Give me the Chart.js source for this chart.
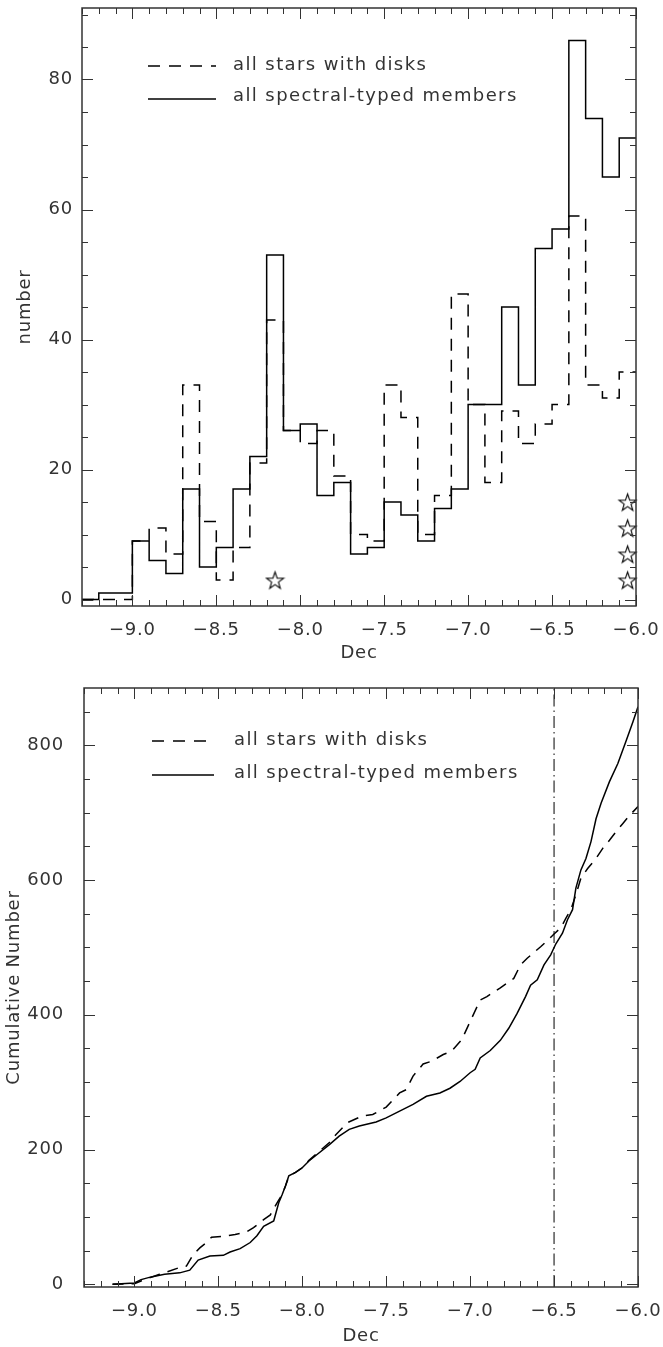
<!DOCTYPE html>
<html>
<head>
<meta charset="utf-8">
<title>Dec distribution</title>
<script src="https://cdn.jsdelivr.net/npm/chart.js@4.4.1/dist/chart.umd.min.js"></script>
<style>
  html, body { margin: 0; padding: 0; background: #fff; }
  canvas { position: absolute; left: 0; }
  #histChart { top: 0; }
  #cumChart { top: 668px; }
</style>
</head>
<body>
<canvas id="histChart" width="663" height="668"></canvas>
<canvas id="cumChart" width="663" height="679"></canvas>
<script>
// histogram bin edges (Dec, 0.1 wide); the last one closes the final bin
const binEdges = [-9.3, -9.2, -9.1, -9.0, -8.9, -8.8, -8.7, -8.6, -8.5, -8.4, -8.3, -8.2, -8.1, -8.0, -7.9, -7.8, -7.7,
    -7.6, -7.5, -7.4, -7.3, -7.2, -7.1, -7.0, -6.9, -6.8, -6.7, -6.6, -6.5, -6.4, -6.3, -6.2, -6.1, -6.0];
const memberCounts = [0, 1, 1, 9, 6, 4, 17, 5, 8, 17, 22, 53, 26, 27, 16, 18, 7, 8, 15, 13, 9, 14, 17, 30, 30, 45, 33,
    54, 57, 86, 74, 65, 71];
const diskCounts = [0, 0, 0, 9, 11, 7, 33, 12, 3, 8, 21, 43, 26, 24, 26, 19, 10, 9, 33, 28, 10, 16, 47, 30, 18, 29, 24,
    27, 30, 59, 33, 31, 35];

// star symbols
const starDec = [-8.15, -6.05, -6.05, -6.05, -6.05];
const starNum = [3, 3, 7, 11, 15];

// cumulative curves
const memberCumDec = [-9.13, -9.0, -8.96, -8.9, -8.82, -8.73, -8.67, -8.62, -8.55, -8.47, -8.43, -8.37, -8.31, -8.27,
    -8.23, -8.17, -8.14, -8.12, -8.1, -8.08, -8.04, -8.0, -7.96, -7.91, -7.84, -7.78, -7.72, -7.66, -7.56, -7.5, -7.42,
    -7.34, -7.26, -7.18, -7.12, -7.06, -7.0, -6.97, -6.94, -6.88, -6.82, -6.77, -6.72, -6.67, -6.64, -6.6, -6.56, -6.52,
    -6.49, -6.45, -6.42, -6.39, -6.37, -6.34, -6.31, -6.28, -6.25, -6.22, -6.17, -6.12, -6.07, -6.03, -6.0];
const memberCum = [0, 2, 7, 11, 15, 17, 21, 36, 42, 43, 48, 53, 62, 72,
    86, 94, 121, 133, 146, 161, 166, 173, 183, 193, 207, 220, 230, 235, 241, 247, 257,
    267, 279, 284, 291, 301, 314, 319, 336, 347, 362, 380, 402, 427, 444, 452, 474, 489,
    505, 521, 541, 556, 588, 615, 632, 657, 691, 714, 746, 773, 807, 835, 857];
const diskCumDec = [-9.13, -9.0, -8.96, -8.85, -8.82, -8.73, -8.69, -8.65, -8.61, -8.57, -8.54, -8.47, -8.4, -8.33,
    -8.29, -8.23, -8.19, -8.15, -8.12, -8.1, -8.08, -8.04, -8.0, -7.96, -7.91, -7.84, -7.8, -7.73, -7.64, -7.58, -7.5,
    -7.42, -7.38, -7.34, -7.28, -7.23, -7.16, -7.11, -7.05, -7.0, -6.94, -6.9, -6.82, -6.74, -6.7, -6.66, -6.58, -6.54,
    -6.5, -6.46, -6.43, -6.4, -6.37, -6.34, -6.3, -6.25, -6.21, -6.17, -6.13, -6.09, -6.05, -6.0];
const diskCum = [0, 1, 5, 15, 17, 25, 27, 44, 54, 62, 70, 71, 74, 78,
    84, 96, 103, 121, 133, 146, 160, 166, 173, 184, 195, 210, 222, 240, 250, 252, 263,
    284, 289, 309, 327, 331, 341, 346, 363, 390, 422, 427, 440, 454, 474, 484, 501, 510,
    520, 529, 543, 556, 578, 603, 617, 632, 647, 659, 672, 684, 696, 709];
const cutDec = -6.5;

const decTicks = [-9.0, -8.5, -8.0, -7.5, -7.0, -6.5, -6.0];
const numTicks = [0, 20, 40, 60, 80];
const cumTicks = [0, 200, 400, 600, 800];
const legendLabels = ['all stars with disks', 'all spectral-typed members'];

const INK = '#000';
const TEXT = '#333';
const FONT = { family: "'DejaVu Sans', sans-serif", size: 18 };

const steps = (lo, hi, d) => Array.from({ length: Math.round((hi - lo) / d) + 1 }, (_, i) => Math.round((lo + i * d) * 10) / 10);
const fmtDec = (v) => (v < 0 ? '\u2212' : '') + Math.abs(v).toFixed(1);

function starImage(r) {
    const c = document.createElement('canvas');
    const s = Math.ceil(2 * r + 3);
    c.width = c.height = s;
    const g = c.getContext('2d');
    g.strokeStyle = INK;
    g.lineWidth = 1.1;
    g.beginPath();
    for (let i = 0; i < 10; i++) {
        const rad = i % 2 ? r * 0.4 : r;
        const ang = -Math.PI / 2 + i * Math.PI / 5;
        const px = s / 2 + rad * Math.cos(ang);
        const py = s / 2 + 1 + rad * Math.sin(ang);
        if (i) g.lineTo(px, py); else g.moveTo(px, py);
    }
    g.closePath();
    g.stroke();
    return c;
}

// IDL-like box with inward ticks on all four sides
const idlFrame = {
    id: 'idlFrame',
    beforeDraw(chart) {
        chart.ctx.letterSpacing = '0.8px';
    },
    afterDatasetsDraw(chart, args, o) {
        const { ctx, chartArea: a, scales: { x, y } } = chart;
        ctx.save();
        ctx.strokeStyle = TEXT;
        ctx.lineWidth = 1;
        ctx.beginPath();
        o.xMinor.forEach((v) => {
            const px = Math.round(x.getPixelForValue(v)) + 0.5;
            const len = o.xMajor.includes(v) ? 11 : 6;
            ctx.moveTo(px, a.bottom); ctx.lineTo(px, a.bottom - len);
            ctx.moveTo(px, a.top); ctx.lineTo(px, a.top + len);
        });
        o.yMinor.forEach((v) => {
            const py = Math.round(y.getPixelForValue(v)) + 0.5;
            const len = o.yMajor.includes(v) ? 11 : 6;
            ctx.moveTo(a.left, py); ctx.lineTo(a.left + len, py);
            ctx.moveTo(a.right, py); ctx.lineTo(a.right - len, py);
        });
        ctx.stroke();
        ctx.lineWidth = 1.5;
        ctx.strokeRect(a.left, a.top, a.right - a.left, a.bottom - a.top);
        ctx.restore();
    },
    afterDraw(chart, args, o) {
        const { ctx } = chart;
        ctx.save();
        ctx.strokeStyle = INK;
        ctx.lineWidth = 1.5;
        o.legend.forEach((row, i) => {
            ctx.setLineDash(i === 0 ? [12, 9] : []);
            ctx.beginPath();
            ctx.moveTo(o.legendX[0], row.line);
            ctx.lineTo(o.legendX[1], row.line);
            ctx.stroke();
        });
        ctx.setLineDash([]);
        ctx.fillStyle = TEXT;
        ctx.font = `${FONT.size}px ${FONT.family}`;
        ctx.letterSpacing = '1.4px';
        ctx.textBaseline = 'alphabetic';
        ctx.textAlign = 'left';
        o.legend.forEach((row, i) => ctx.fillText(legendLabels[i], o.legendX[2], row.text));
        ctx.restore();
    },
};

function axes(xHeight, yWidth, yMin, yMax, yTickVals, yTitle, yLabelPad, yTitlePad, xTitlePad) {
    return {
        x: {
            type: 'linear', min: -9.3, max: -6.0,
            grid: { display: false, drawTicks: false }, border: { display: false },
            ticks: { padding: 14, font: FONT, color: TEXT, maxRotation: 0, autoSkip: false, callback: fmtDec },
            afterBuildTicks: (s) => { s.ticks = decTicks.map((value) => ({ value })); },
            afterFit: (s) => { s.height = xHeight; s.paddingLeft = 0; s.paddingRight = 0; },
            title: { display: true, text: 'Dec', font: FONT, color: TEXT, padding: { top: 0, bottom: xTitlePad } },
        },
        y: {
            type: 'linear', min: yMin, max: yMax,
            grid: { display: false, drawTicks: false }, border: { display: false },
            ticks: { padding: yLabelPad, font: FONT, color: TEXT, callback: (v) => String(v) },
            afterBuildTicks: (s) => { s.ticks = yTickVals.map((value) => ({ value })); },
            afterFit: (s) => { s.width = yWidth; s.paddingTop = 0; s.paddingBottom = 0; },
            title: { display: true, text: yTitle, font: FONT, color: TEXT, padding: { top: yTitlePad, bottom: 0 } },
        },
    };
}

const baseLine = { pointRadius: 0, fill: false, tension: 0, borderColor: INK, borderWidth: 1.5 };

new Chart(document.getElementById('histChart'), {
    type: 'line',
    data: {
        datasets: [
            {
                ...baseLine, order: 1, stepped: 'before', borderDash: [12, 9],
                data: binEdges.map((x, i) => ({ x, y: diskCounts[Math.min(i, diskCounts.length - 1)] })),
            },
            {
                ...baseLine, order: 0, stepped: 'before',
                data: binEdges.map((x, i) => ({ x, y: memberCounts[Math.min(i, memberCounts.length - 1)] })),
            },
            {
                order: 2, showLine: false, clip: false, pointStyle: starImage(9),
                data: starDec.map((x, i) => ({ x, y: starNum[i] })),
            },
        ],
    },
    options: {
        responsive: false, animation: false,
        layout: { padding: { top: 8, right: 27, left: 0, bottom: 0 } },
        plugins: {
            legend: { display: false }, tooltip: { enabled: false },
            idlFrame: {
                xMinor: steps(-9.3, -6.0, 0.1), xMajor: decTicks,
                yMinor: steps(0, 90, 5), yMajor: numTicks,
                legendX: [148, 216, 233],
                legend: [{ line: 66, text: 70 }, { line: 99, text: 101 }],
            },
        },
        scales: axes(62, 82, -1, 91, numTicks, 'number', 9, 15, 4),
    },
    plugins: [idlFrame],
});

new Chart(document.getElementById('cumChart'), {
    type: 'line',
    data: {
        datasets: [
            { ...baseLine, order: 1, borderDash: [11, 8], data: diskCumDec.map((x, i) => ({ x, y: diskCum[i] })) },
            { ...baseLine, order: 0, data: memberCumDec.map((x, i) => ({ x, y: memberCum[i] })) },
            {
                ...baseLine, order: 2, borderWidth: 1, borderDash: [12, 4, 1.5, 4],
                data: [{ x: cutDec, y: -4 }, { x: cutDec, y: 885 }],
            },
        ],
    },
    options: {
        responsive: false, animation: false,
        layout: { padding: { top: 20, right: 25, left: 0, bottom: 0 } },
        plugins: {
            legend: { display: false }, tooltip: { enabled: false },
            idlFrame: {
                xMinor: steps(-9.3, -6.0, 0.1), xMajor: decTicks,
                yMinor: steps(0, 850, 50), yMajor: cumTicks,
                legendX: [152, 214, 234],
                legend: [{ line: 73, text: 77 }, { line: 107, text: 110 }],
            },
        },
        scales: axes(60, 84, -4, 885, cumTicks, 'Cumulative Number', 20, 4, 0),
    },
    plugins: [idlFrame],
});
</script>
</body>
</html>
